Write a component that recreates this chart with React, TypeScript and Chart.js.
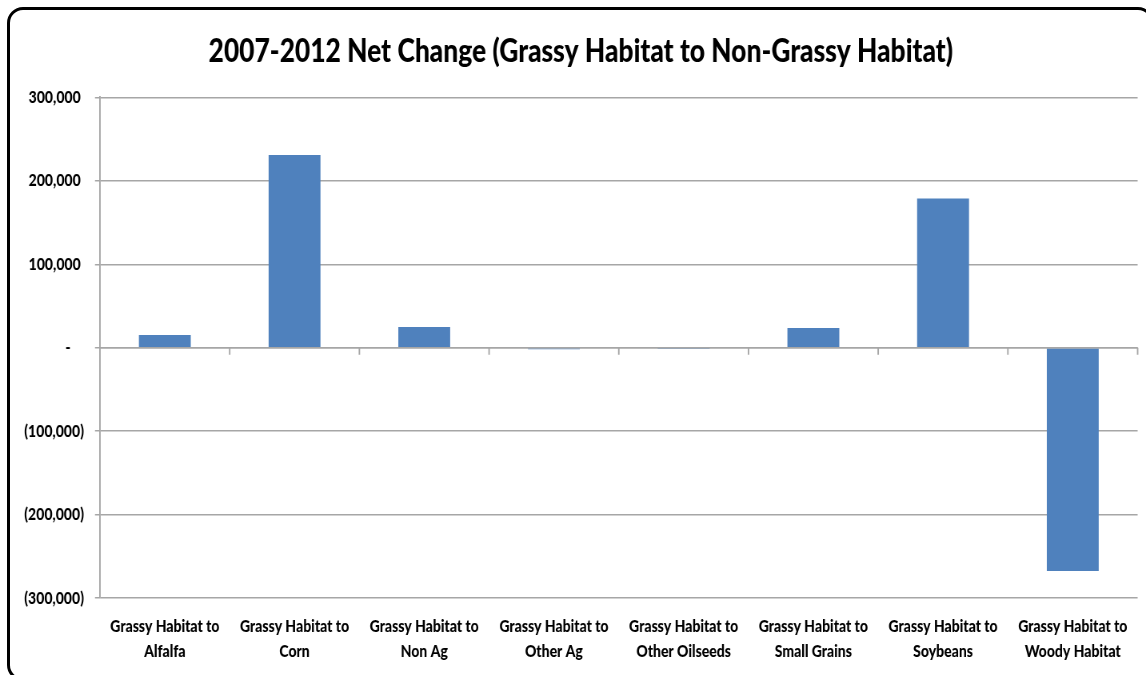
import React, { useEffect, useRef } from "react";
import { Chart, registerables } from "chart.js";

Chart.register(...registerables);

const TITLE = "2007-2012 Net Change (Grassy Habitat to Non-Grassy Habitat)";
const categories: string[][] = [
  ["Grassy Habitat to", "Alfalfa"],
  ["Grassy Habitat to", "Corn"],
  ["Grassy Habitat to", "Non Ag"],
  ["Grassy Habitat to", "Other Ag"],
  ["Grassy Habitat to", "Other Oilseeds"],
  ["Grassy Habitat to", "Small Grains"],
  ["Grassy Habitat to", "Soybeans"],
  ["Grassy Habitat to", "Woody Habitat"],
];
const netChange: number[] = [15200, 231000, 24800, -1800, -1500, 23600, 178900, -267600];
const yMin = -300000;
const yMax = 300000;
const yStep = 100000;

// The reference is horizontally condensed; draw on a wider canvas and squeeze it with CSS.
const PAGE_W = 1146;
const PAGE_H = 675;
const SQUEEZE = 0.8;
const CANVAS_W = Math.round(PAGE_W / SQUEEZE);
const S = 1 / SQUEEZE;

const FONT = "Lato, 'Liberation Sans', sans-serif";
const GRID = "#a6a6a6";

const fmt = (n: number) => n.toLocaleString("en-US");

const zeroTicks = {
  id: "zeroTicks",
  afterDatasetsDraw(chart: any) {
    const x = chart.scales.x;
    const y = chart.scales.y;
    const y0 = y.getPixelForValue(0);
    const ctx = chart.ctx;
    ctx.save();
    ctx.strokeStyle = GRID;
    ctx.lineWidth = 1.5;
    ctx.beginPath();
    ctx.moveTo(chart.chartArea.left, y0);
    ctx.lineTo(chart.chartArea.right, y0);
    ctx.stroke();
    ctx.lineWidth = 1.5 * S;
    ctx.beginPath();
    for (let i = 1; i <= categories.length; i++) {
      const px =
        i < categories.length
          ? (x.getPixelForValue(i - 1) + x.getPixelForValue(i)) / 2
          : chart.chartArea.right;
      ctx.moveTo(px, y0);
      ctx.lineTo(px, y0 + 7);
    }
    ctx.stroke();
    ctx.restore();
  },
};

export default function App() {
  const ref = useRef<HTMLCanvasElement>(null);
  useEffect(() => {
    if (!ref.current) return;
    const padL = 30;
    const chart = new Chart(ref.current, {
      type: "bar",
      data: {
        labels: categories,
        datasets: [
          {
            data: netChange,
            backgroundColor: "#4f81bd",
            borderWidth: 0,
            barPercentage: 0.4,
            categoryPercentage: 1,
          },
        ],
      },
      options: {
        animation: false,
        responsive: false,
        devicePixelRatio: 1,
        layout: { padding: { left: padL, right: CANVAS_W - 1138 * S, top: 0, bottom: 0 } },
        plugins: {
          legend: { display: false },
          tooltip: { enabled: false },
          title: {
            display: true,
            text: TITLE,
            color: "#000",
            font: { family: FONT, size: 33, weight: 900, lineHeight: 1.2 },
            padding: { top: 31.5, bottom: 26.3 },
          },
        },
        scales: {
          x: {
            grid: { display: false, drawTicks: false },
            border: { display: false },
            ticks: {
              color: "#000",
              font: { family: FONT, size: 17.5, weight: 900, lineHeight: 1.43 },
              padding: 16,
              maxRotation: 0,
              autoSkip: false,
            },
            afterFit: (s: any) => {
              s.height = 77;
            },
          },
          y: {
            min: yMin,
            max: yMax,
            grid: { color: GRID, lineWidth: 1.5, tickLength: 5 * S, drawTicks: true },
            border: { display: true, color: GRID, width: 1.5 * S },
            ticks: {
              stepSize: yStep,
              color: "#000",
              font: { family: FONT, size: 17.5, weight: 900 },
              padding: 11 * S,
              callback: (v: any) => {
                const n = Number(v);
                if (n > 0) return fmt(n) + " ";
                if (n < 0) return "(" + fmt(-n) + ")";
                return "-    ";
              },
            },
            afterFit: (s: any) => {
              s.width = 100 * S - padL;
            },
          },
        },
      },
      plugins: [zeroTicks],
    });
    return () => chart.destroy();
  }, []);

  return (
    <div
      style={{
        position: "fixed",
        left: 0,
        top: 0,
        width: PAGE_W,
        height: PAGE_H,
        overflow: "hidden",
        background: "#fff",
      }}
    >
      <canvas
        ref={ref}
        width={CANVAS_W}
        height={PAGE_H}
        style={{ position: "absolute", left: 0, top: 0, width: PAGE_W, height: PAGE_H }}
      />
      <div
        style={{
          position: "absolute",
          left: 7,
          top: 7,
          width: 1141,
          height: 668,
          border: "3px solid #000",
          borderRadius: 16,
          pointerEvents: "none",
        }}
      />
    </div>
  );
}
